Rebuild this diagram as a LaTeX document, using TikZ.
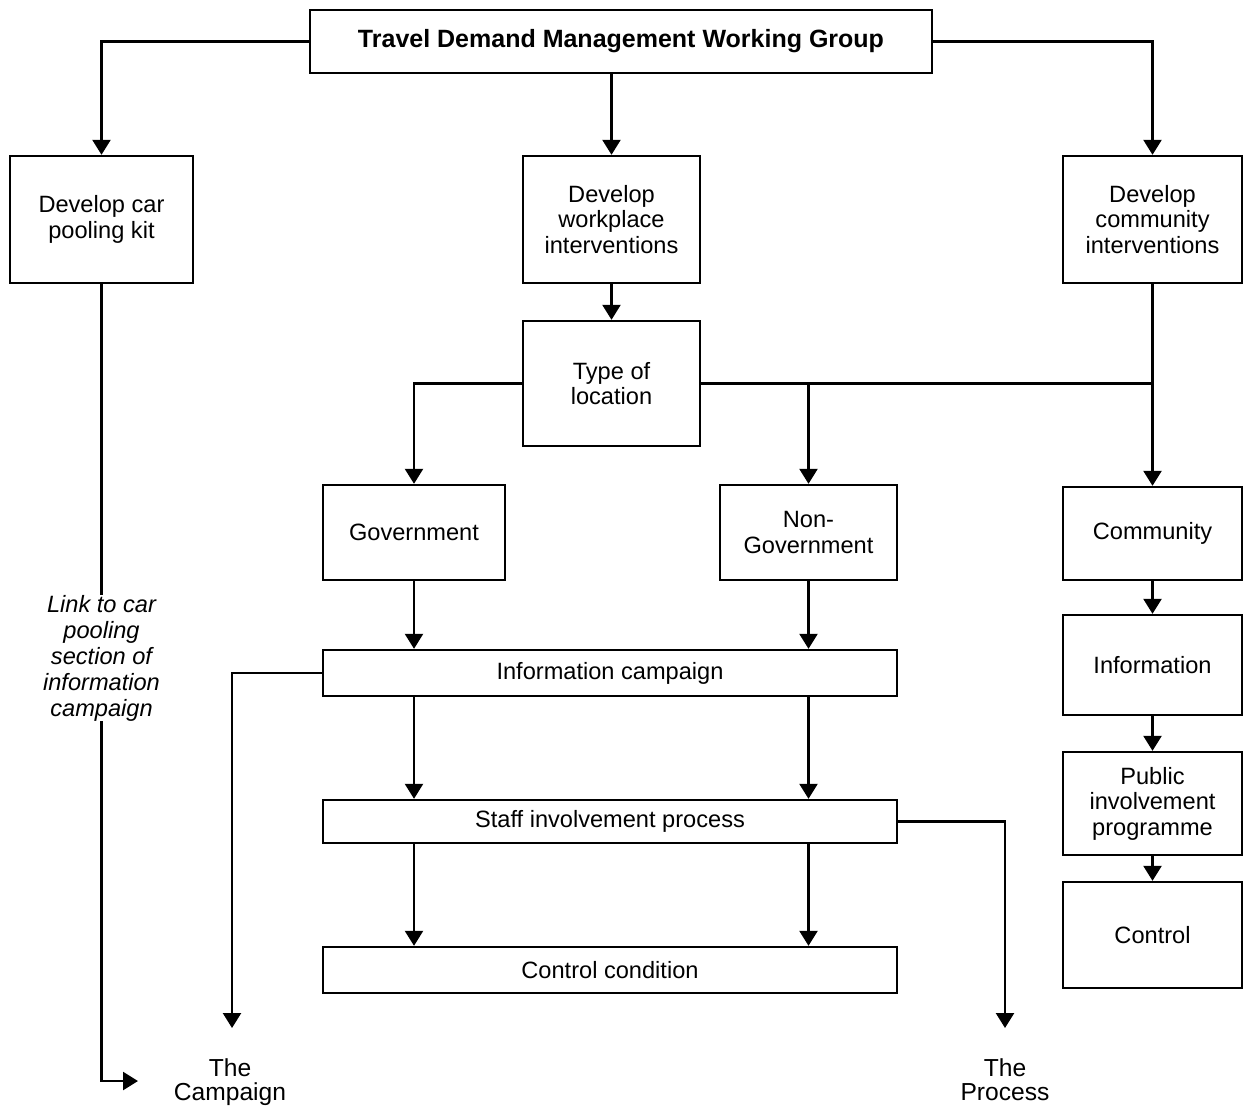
\documentclass[tikz,border=0pt]{standalone}
\usepackage{fontspec}
\setmainfont{Liberation Sans}
\usetikzlibrary{arrows.meta}
\begin{document}
\begin{tikzpicture}[x=0.5pt,y=-0.5pt,
  box/.style={draw, line width=1.2pt, align=center, inner sep=0pt,
    font=\fontsize{11.8}{12.8}\selectfont},
  conn/.style={line width=1.2pt, -{Triangle[width=9pt,length=7.5pt]}},
  plain/.style={line width=1.2pt},
  endlabel/.style={align=center, inner sep=0pt, anchor=north, font=\fontsize{12.3}{12.3}\selectfont}]
\useasboundingbox (0,0) rectangle (1247,1105);

% boxes
\node[box, minimum width=311pt, minimum height=31.5pt,
      font=\bfseries\fontsize{12.5}{13}\selectfont] (top) at (621,41.5)
      {Travel Demand Management Working Group};
\node[box, minimum width=91.5pt, minimum height=63.5pt] (kit) at (101.5,219.5)
      {Develop car\\pooling kit};
\node[box, minimum width=88.5pt, minimum height=63.5pt] (work) at (611.5,219.5)
      {Develop\\workplace\\interventions};
\node[box, minimum width=89.5pt, minimum height=63.5pt] (comm) at (1152.5,219.5)
      {Develop\\community\\interventions};
\node[box, minimum width=88.5pt, minimum height=62.5pt] (type) at (611.5,383.5)
      {Type of\\location};
\node[box, minimum width=91pt, minimum height=47.5pt] (gov) at (414,532.5)
      {Government};
\node[box, minimum width=88.5pt, minimum height=47.5pt] (nongov) at (808.5,532.5)
      {Non-\\Government};
\node[box, minimum width=89.5pt, minimum height=46.5pt] (community) at (1152.5,533.5)
      {Community};
\node[box, minimum width=287pt, minimum height=23pt] (infoc) at (610,673)
      {Information campaign};
\node[box, minimum width=287pt, minimum height=21.5pt] (staff) at (610,821.5)
      {Staff involvement process};
\node[box, minimum width=287pt, minimum height=23pt] (ctrlc) at (610,970)
      {Control condition};
\node[box, minimum width=89.5pt, minimum height=50pt] (info) at (1152.5,665)
      {Information};
\node[box, minimum width=89.5pt, minimum height=51.5pt] (public) at (1152.5,803.5)
      {Public\\involvement\\programme};
\node[box, minimum width=89.5pt, minimum height=53pt] (control) at (1152.5,935)
      {Control};

% free labels
\node[align=center, inner sep=0pt, font=\itshape\fontsize{11.8}{13}\selectfont] (link) at (101.5,658)
      {Link to car\\pooling\\section of\\information\\campaign};
\node[endlabel] (campaign) at (230,1058) {The\\Campaign};
\node[endlabel] (process) at (1005,1058) {The\\Process};

\coordinate (campEnd) at (232,1028);
\coordinate (procEnd) at (1005,1028);
\coordinate (linkEnd) at (138,1081);

% connectors from top
\draw[conn] (top.west) -| (kit.north);
\draw[conn] (work.north |- top.south) -- (work.north);
\draw[conn] (top.east) -| (comm.north);

% workplace branch
\draw[conn] (work.south) -- (type.north);
\draw[conn] (type.west) -| (gov.north);
\draw[plain] (type.east) -- (comm.south |- type.east);
\draw[conn] (nongov.north |- type.east) -- (nongov.north);
\draw[conn] (comm.south) -- (community.north);

\draw[conn] (gov.south) -- (gov.south |- infoc.north);
\draw[conn] (nongov.south) -- (nongov.south |- infoc.north);
\draw[conn] (gov.south |- infoc.south) -- (gov.south |- staff.north);
\draw[conn] (nongov.south |- infoc.south) -- (nongov.south |- staff.north);
\draw[conn] (gov.south |- staff.south) -- (gov.south |- ctrlc.north);
\draw[conn] (nongov.south |- staff.south) -- (nongov.south |- ctrlc.north);

\draw[conn] (infoc.west) -| (campEnd);
\draw[conn] (staff.east) -| (procEnd);

% community branch
\draw[conn] (community.south) -- (info.north);
\draw[conn] (info.south) -- (public.north);
\draw[conn] (public.south) -- (control.north);

% car pooling link
\draw[plain] (kit.south) -- (link.north);
\draw[conn] (link.south) -- (link.south |- linkEnd) -- (linkEnd);
\end{tikzpicture}
\end{document}
